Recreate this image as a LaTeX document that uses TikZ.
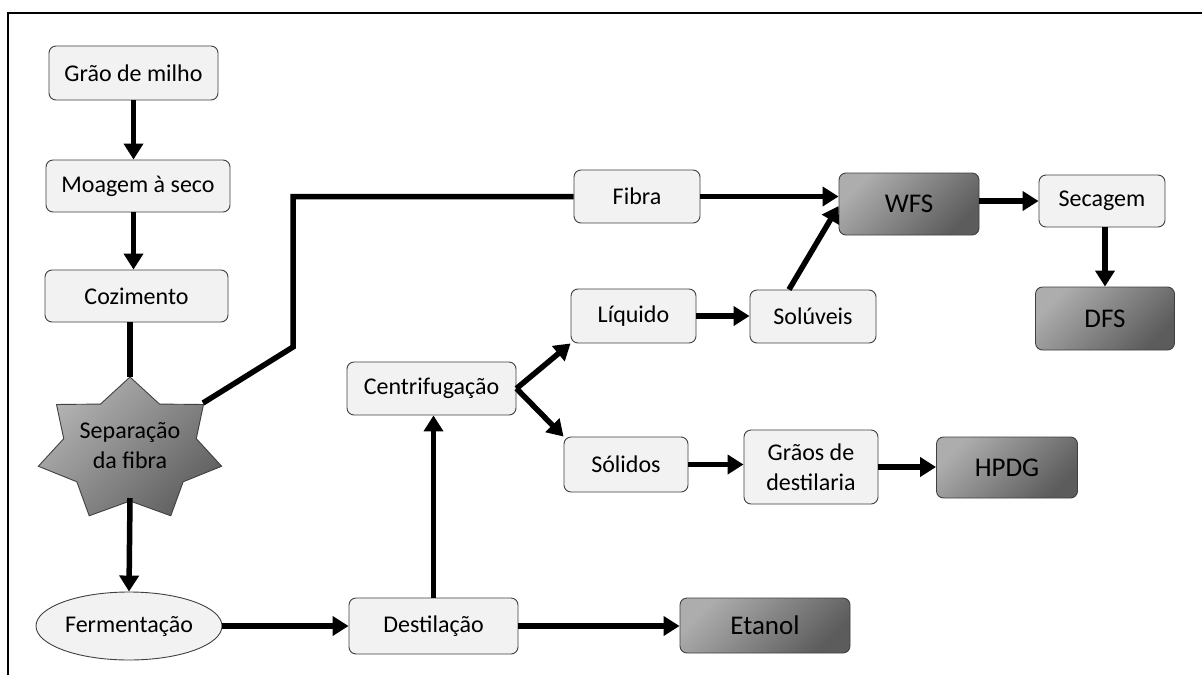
\documentclass[tikz,border=0pt]{standalone}
\usepackage{fontspec}
\setmainfont{Carlito}
\usetikzlibrary{arrows.meta,shapes.geometric,calc}
\definecolor{lightfill}{HTML}{F2F2F2}
\definecolor{edgegray}{HTML}{404040}
\begin{document}
\begin{tikzpicture}[x=1pt,y=-1pt,
  lbox/.style={draw=edgegray, line width=0.9pt, fill=lightfill, rounded corners=7pt, inner sep=0pt, align=center, font=\fontsize{24}{30}\selectfont},
  dbox/.style={draw=edgegray, line width=0.9pt, rounded corners=7pt, top color=black!32, bottom color=black!64, shading angle=45, inner sep=0pt, font=\fontsize{27}{32}\selectfont},
  arr/.style={line width=5.5pt, -{Triangle[length=16pt,width=19pt]}},
  ln/.style={line width=5.5pt}]
\useasboundingbox (0,0) rectangle (1202,675);
\fill[white] (0,0) rectangle (1202,675);
% frame
\draw[line width=2pt] (8,675) -- (8,13) -- (1202,13);

% left column
\node[lbox, minimum width=169pt, minimum height=54pt] (grao) at (133.5,73) {Grão de milho};
\node[lbox, minimum width=184pt, minimum height=52pt] (moagem) at (138,186) {Moagem à seco};
\node[lbox, minimum width=183pt, minimum height=52pt] (cozimento) at (136.5,296) {Cozimento};

% star
\path[draw=edgegray, line width=0.9pt, top color=black!30, bottom color=black!62, shading angle=45]
  plot[samples at={0,...,13}] ({130+ifthenelse(mod(\x,2)==0,94,68)*cos(90+\x*180/7)}, {450-ifthenelse(mod(\x,2)==0,73,51)*sin(90+\x*180/7)}) -- cycle;
\node[align=center, inner sep=0pt, font=\fontsize{24}{30}\selectfont] (sep) at (130,446) {Separação\\da fibra};
\coordinate (septop) at (130,377);
\coordinate (sepbot) at (130,498);
\coordinate (sepur) at (203,403);
\coordinate (bend) at (293,347);

\node[ellipse, draw=edgegray, line width=0.9pt, fill=lightfill, minimum width=186pt, minimum height=68pt, inner sep=0pt, font=\fontsize{24}{30}\selectfont] (ferm) at (129,626) {Fermentação};

% middle
\node[lbox, minimum width=169pt, minimum height=56pt] (destil) at (433.5,626) {Destilação};
\node[lbox, minimum width=169pt, minimum height=53pt] (centri) at (431.5,388.5) {Centrifugação};
\node[dbox, minimum width=170pt, minimum height=55pt] (etanol) at (765,625.5) {Etanol};

\node[lbox, minimum width=126pt, minimum height=53pt] (fibra) at (637,196.5) {Fibra};
\node[lbox, minimum width=125pt, minimum height=54pt] (liquido) at (633.5,316) {Líquido};
\node[lbox, minimum width=126pt, minimum height=53pt] (soluveis) at (813,316.5) {Solúveis};
\node[lbox, minimum width=124pt, minimum height=55pt] (solidos) at (626,464.5) {Sólidos};
\node[lbox, minimum width=134pt, minimum height=74pt] (graos) at (811,467) {Grãos de\\destilaria};

% right
\node[dbox, minimum width=140pt, minimum height=62pt] (wfs) at (909,204) {WFS};
\node[lbox, minimum width=126pt, minimum height=52pt] (secagem) at (1102,201) {Secagem};
\node[dbox, minimum width=139pt, minimum height=63pt] (dfs) at (1105,318.5) {DFS};
\node[dbox, minimum width=141pt, minimum height=61pt] (hpdg) at (1007,467.5) {HPDG};

% connectors
\draw[arr] (grao.south) -- (grao.south |- moagem.north);
\draw[arr] (grao.south |- moagem.south) -- (grao.south |- cozimento.north);
\draw[ln] (septop |- cozimento.south) -- (septop);
\draw[arr] (sepbot) -- (ferm.north);
\draw[ln] (sepur) -- (bend) -- (bend |- fibra.west) -- (fibra.west);
\draw[arr] (fibra.east) -- (wfs.west |- fibra.east);
\draw[arr] ($(soluveis.north)+(-24,0)$) -- ($(wfs.west)+(0,2)$);
\draw[arr] (wfs.east |- secagem.west) -- (secagem.west);
\draw[arr] (dfs.north |- secagem.south) -- (dfs.north);
\draw[arr] (liquido.east) -- (soluveis.west |- liquido.east);
\draw[arr] (centri.east) -- (liquido.south west);
\draw[arr] (centri.east) -- (solidos.north west);
\draw[arr] (solidos.east) -- (graos.west |- solidos.east);
\draw[arr] (graos.east) -- (hpdg.west |- graos.east);
\draw[arr] (ferm.east) -- (destil.west |- ferm.east);
\draw[arr] (destil.north) -- (destil.north |- centri.south);
\draw[arr] (destil.east) -- (etanol.west |- destil.east);
\end{tikzpicture}
\end{document}
